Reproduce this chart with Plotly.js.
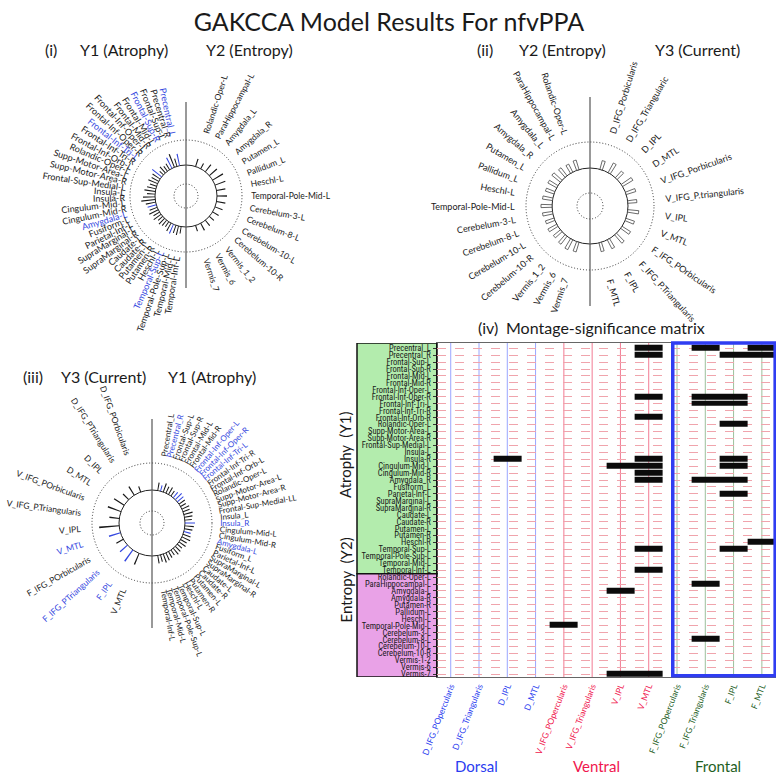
<!DOCTYPE html>
<html><head><meta charset="utf-8">
<script src="https://cdn.plot.ly/plotly-3.0.1.min.js"></script>
<style>html,body{margin:0;padding:0;background:#fff}#chart{width:778px;height:774px}</style>
</head><body><div id="chart"></div><script>
// ================= DATA =================
// Matrix (iv) rows and columns
const y1Rows = ['Precentral_L','Precentral_R','Frontal-Sup-L','Frontal-Sup-R','Frontal-Mid-L','Frontal-Mid-R','Frontal-Inf-Oper-L','Frontal-Inf-Oper-R','Frontal-Inf-Tri-L','Frontal-Inf-Tri-R','Frontal-Inf-Orb-R','Rolandic-Oper-L','Supp-Motor-Area-L','Supp-Motor-Area-R','Frontal-Sup-Medial-L','Insula-L','Insula-R','Cingulum-Mid-L','Cingulum-Mid-R','Amygdala_R','Fusiform_L','Parietal-Inf-L','SupraMarginal-L','SupraMarginal-R','Caudate-L','Caudate-R','Putamen-L','Putamen-R','Heschl-R','Temporal-Sup-L','Temporal-Pole-Sup-L','Temporal-Mid-L','Temporal-Inf-L'];
const y2Rows = ['Rolandic-Oper-L','ParaHippocampal-L','Amygdala-L','Amygdala-R','Putamen-R','Pallidum-L','Heschl-L','Temporal-Pole-Mid-L','Cerebelum-3-L','Cerebelum-8-L','Cerebelum-10-L','Cerebelum-10-R','Vermis-1-2','Vermis-6','Vermis-7'];
const y3Cols = ['D_IFG_POpercularis','D_IFG_Triangularis','D_IPL','D_MTL','V_IFG_POpercularis','V_IFG_Triangularis','V_IPL','V_MTL','F_IFG_POpercularis','F_IFG_Triangularis','F_IPL','F_MTL'];
const colGroups = ['Dorsal','Dorsal','Dorsal','Dorsal','Ventral','Ventral','Ventral','Ventral','Frontal','Frontal','Frontal','Frontal'];
const groupNames = ['Dorsal','Ventral','Frontal'];
// significant cells: row index (into y1Rows then y2Rows) and column index
const sigRowIdx = [0,0,0, 1,1,1, 7,7,7, 8,8, 10, 11, 16,16,16, 17,17,17, 18, 19,19,19, 21, 28, 29,29, 32, 34, 35, 40, 42, 47,47];
const sigColIdx = [7,9,11, 7,10,11, 7,9,10, 9,10, 7, 10, 2,7,10, 6,7,10, 7, 7,9,10, 10, 11, 7,10, 7, 9, 6, 4, 9, 6,7];

// Circle (i): Y1 (Atrophy) left, Y2 (Entropy) right
const c1LeftLabels = ['Precentral_L','Precentral_R','Frontal-Sup-L','Frontal-Sup-R','Frontal-Mid-L','Frontal-Mid-R','Frontal-Inf-Oper-L','Frontal-Inf-Oper-R','Frontal-Inf-Tri-L','Frontal-Inf-Tri-R','Frontal-Inf-Orb-L','Rolandic-Oper-L','Supp-Motor-Area-L','Supp-Motor-Area-R','Frontal-Sup-Medial-L','Insula-L','Insula-R','Cingulum-Mid-L','Cingulum-Mid-R','Amygdala-L','Fusiform-L','Parietal-Inf-L','SupraMarginal-L','SupraMarginal-R','Caudate-L','Caudate-R','Putamen-L','Putamen-R','Heschl-L','Temporal-Sup-L','Temporal-Pole-Sup-L','Temporal-Mid-L','Temporal-Inf-L'];
const c1LeftVals = [12,8,14,12,7,6,8,5,12,9,8,10,7,9,11,8,12,14,10,9,8,10,7,9,6,8,7,6,9,10,8,9,7];
const c1LeftBlue = [0,3,8,19,29];
const c1RightLabels = ['Rolandic-Oper-L','ParaHippocampal-L','Amygdala_L','Amygdala_R','Putamen_L','Pallidum_L','Heschl-L','Temporal-Pole-Mid-L','Cerebelum-3-L','Cerebelum-8-L','Cerebelum-10-L','Cerebelum-10-R','Vermis_1_2','Vermis_6','Vermis_7'];
const c1RightVals = [8,6,9,10,12,11,9,10,9,8,7,6,7,8,6];
const c1RightBlue = [];

// Circle (ii): Y2 (Entropy) left, Y3 (Current) right
const c2LeftLabels = ['Rolandic-Oper-L','ParaHippocampal-L','Amygdala_L','Amygdala_R','Putamen_L','Pallidum_L','Heschl-L','Temporal-Pole-Mid-L','Cerebelum-3-L','Cerebelum-8-L','Cerebelum-10-L','Cerebelum-10-R','Vermis_1_2','Vermis_6','Vermis_7'];
const c2LeftVals = [10,9,10,11,10,9,10,11,10,9,10,9,10,11,10];
const c2LeftBlue = [];
const c2RightLabels = ['D_IFG_Porbicularis','D_IFG_Triangularic','D_IPL','D_MTL','V_IFG_Porbicularis','V_IFG_P.triangularis','V_IPL','V_MTL','F_IFG_POrbicularis','F_IFG_P.Triangularis','F_IPL','F_MTL'];
const c2RightVals = [9,11,9,12,10,9,11,9,10,11,10,9];
const c2RightBlue = [];

// Circle (iii): Y3 (Current) left, Y1 (Atrophy) right
const c3LeftLabels = ['D_IFG_POrbicularis','D_IFG_PTriangularis','D_IPL','D_MTL','V_IFG_POrbicularis','V_IFG_P.Triangularis','V_IPL','V_MTL','F_IFG_POrbicularis','F_IFG_PTriangularis','F_IPL','V_MTL'];
const c3LeftVals = [6,10,8,12,14,10,20,12,8,10,14,12];
const c3LeftBlue = [7,9,10];
const c3RightLabels = ['Precentral_L','Precentral_R','Frontal-Sup-L','Frontal-Sup-R','Frontal-Mid-L','Frontal-Mid-R','Frontal-Inf-Oper-L','Frontal-Inf-Oper-R','Frontal-Inf-Tri-L','Frontal-Inf-Tri-R','Frontal-Inf-Orb-L','Rolandic-Oper-L','Supp-Motor-Area-L','Supp-Motor-Area-R','Frontal-Sup-Medial-LL','Insula_L','Insula_R','Cingulum-Mid-L','Cingulum-Mid-R','Amygdala-L','Fusiform_L','Parietal-Inf-L','SupraMarginal-L','SupraMarginal-R','Caudate-L','Caudate-R','Putamen-L','Putamen-R','Heschl-L','Temporal-Sup-L','Temporal-Pole-Sup-L','Temporal-Mid-L','Temporal-Inf-L'];
const c3RightVals = [8,6,9,7,8,6,7,9,8,7,6,8,7,9,8,7,10,9,8,7,8,9,7,8,6,7,8,6,7,8,9,7,8];
const c3RightBlue = [1,6,7,8,16,19];

// ================= STYLE / LAYOUT =================
const W = 778, H = 774;
const FONT = "Lato, 'Open Sans', sans-serif";
const NARROW = "'Liberation Sans Narrow', 'Roboto Condensed', Lato, sans-serif";
const BLUE = '#3548e0';
const INK = '#1a1a1a';
const groupColor = {Dorsal:'#2a3cf0', Ventral:'#f0164e', Frontal:'#1f5f1f'};
const groupLine = {Dorsal:'#9aa6ff', Ventral:'#f27a92', Frontal:'#9cc09c'};
const px = v => v / W;
const py = v => 1 - v / H;

const circles = [
  {cx:186, cy:196, half:60, base:31, small:12, outer:56, vTop:102, vBot:288, hollow:false,
   left:{labels:c1LeftLabels, vals:c1LeftVals, blue:c1LeftBlue, a0:102, a1:261, labelR:61, fs:9, w:1.6},
   right:{labels:c1RightLabels, vals:c1RightVals, blue:c1RightBlue, a0:72, a1:-72, labelR:66, fs:8.5, w:1.8}},
  {cx:590, cy:206, half:68, base:38, small:13, outer:64, vTop:97, vBot:306, hollow:true,
   left:{labels:c2LeftLabels, vals:c2LeftVals, blue:c2LeftBlue, a0:108.7, a1:251.3, labelR:76, fs:9, w:3.8},
   right:{labels:c2RightLabels, vals:c2RightVals, blue:c2RightBlue, a0:73, a1:-74.4, labelR:76, fs:9, w:3.8}},
  {cx:152, cy:523, half:64, base:33, small:12, outer:60, vTop:419, vBot:628, hollow:false,
   left:{labels:c3LeftLabels, vals:c3LeftVals, blue:c3LeftBlue, a0:110, a1:247, labelR:72, fs:8.5, w:1.8},
   right:{labels:c3RightLabels, vals:c3RightVals, blue:c3RightBlue, a0:80, a1:-80, labelR:68, fs:8, w:1.6}}
];

const data = [];
const annotations = [];
const shapes = [];
const layout = {
  width: W, height: H, margin:{l:0,r:0,t:0,b:0}, showlegend:false,
  paper_bgcolor:'#fff', plot_bgcolor:'#fff',
  font:{family:FONT, color:INK},
  title:{text:'GAKCCA Model Results For nfvPPA', x:0.5, xanchor:'center', y:py(22), yanchor:'middle', font:{size:25, family:FONT, color:INK}},
};

function anglesFor(side){
  const n = side.labels.length;
  return side.labels.map((_,k)=> side.a0 + k*(side.a1 - side.a0)/(n-1));
}

circles.forEach((c, ci) => {
  const nameA = ci === 0 ? 'polar' : 'polar' + (ci*2+1);
  const nameB = 'polar' + (ci*2+2);
  const domain = {x:[px(c.cx - c.half), px(c.cx + c.half)], y:[py(c.cy + c.half), py(c.cy - c.half)]};
  const hiddenAng = {showgrid:false, showticklabels:false, ticks:'', showline:false, rotation:0, direction:'counterclockwise'};
  layout[nameA] = {domain, bgcolor:'rgba(0,0,0,0)', barmode:'overlay',
    radialaxis:{range:[0,c.half], tickvals:[c.small, c.outer], showgrid:true, griddash:'1px,2px', gridcolor:'#333', gridwidth:1, showticklabels:false, ticks:'', showline:false},
    angularaxis:hiddenAng};
  layout[nameB] = {domain, bgcolor:'rgba(0,0,0,0)', barmode:'overlay',
    radialaxis:{range:[0,c.half], tickvals:[c.base], showgrid:true, griddash:'solid', gridcolor:'#222', gridwidth:1, showticklabels:false, ticks:'', showline:false},
    angularaxis:hiddenAng};
  data.push({type:'scatterpolar', subplot:nameA, r:[0], theta:[0], mode:'markers', marker:{opacity:0}, hoverinfo:'skip'});

  ['left','right'].forEach(sideName => {
    const side = c[sideName];
    const ang = anglesFor(side);
    const cols = side.labels.map((_,k)=> side.blue.includes(k) ? BLUE : INK);
    data.push({type:'barpolar', subplot:nameB, theta:ang, r:side.vals, base:c.base, width:side.w,
      marker: c.hollow ? {color:'#fff', line:{color:'#444', width:0.8}} : {color:cols, line:{width:0}},
      hoverinfo:'skip'});
    side.labels.forEach((lab,k)=>{
      const th = ang[k], rad = th*Math.PI/180;
      const x = c.cx + side.labelR*Math.cos(rad);
      const y = c.cy - side.labelR*Math.sin(rad);
      const hid = '<span style="color:rgba(0,0,0,0)">' + lab + '</span>';
      const vis = '<span style="color:' + cols[k] + '">' + lab + '</span>';
      const isRight = sideName === 'right';
      annotations.push({xref:'paper', yref:'paper', x:px(x), y:py(y), showarrow:false,
        xanchor:'center', yanchor:'middle', text: isRight ? hid+vis : vis+hid,
        textangle: isRight ? -th : 180 - th, font:{size:side.fs, family:FONT, color:cols[k]}});
    });
  });
  shapes.push({type:'line', xref:'paper', yref:'paper', x0:px(c.cx), x1:px(c.cx), y0:py(c.vTop), y1:py(c.vBot), line:{color:'#555', width:1.2}});
});

// Panel titles
const ptitle = (t, x, y) => annotations.push({xref:'paper', yref:'paper', x:px(x), y:py(y), text:t, showarrow:false, xanchor:'center', yanchor:'middle', font:{size:16, family:FONT, color:INK}});
ptitle('(i)', 51, 50); ptitle('Y1 (Atrophy)', 124, 50); ptitle('Y2 (Entropy)', 249, 50);
ptitle('(ii)', 485, 50); ptitle('Y2 (Entropy)', 562, 50); ptitle('Y3 (Current)', 697, 50);
ptitle('(iii)', 33, 376); ptitle('Y3 (Current)', 103, 376); ptitle('Y1 (Atrophy)', 212, 376);
ptitle('(iv)', 488, 327); ptitle('Montage-significance matrix', 605, 327);

// ================= MATRIX (iv) =================
const allRows = y1Rows.concat(y2Rows);
const nRows = allRows.length, nCols = y3Cols.length;
const z = allRows.map(()=> y3Cols.map(()=> null));
sigRowIdx.forEach((r,i)=>{ z[r][sigColIdx[i]] = 1; });
const yRange = [nRows - 0.6, -0.75];
const xRange = [-0.485, nCols - 0.5];

data.push({type:'heatmap', xaxis:'x', yaxis:'y', x:y3Cols.map((_,j)=>j), y:allRows.map((_,i)=>i), z:z,
  colorscale:[[0,'#0b0b0b'],[1,'#0b0b0b']], zmin:0, zmax:1, showscale:false, xgap:0, ygap:1, hoverinfo:'skip'});

layout.xaxis = {domain:[px(437), px(776)], range:xRange, tickvals:y3Cols.map((_,j)=>j),
  ticktext:y3Cols.map((t,j)=> '<span style="color:' + groupColor[colGroups[j]] + '">' + t + '</span>'),
  tickangle:-69, tickfont:{size:8.5, family:FONT}, showgrid:false, zeroline:false, ticks:'',
  showline:true, mirror:true, linecolor:'#666', linewidth:1, anchor:'y'};
layout.yaxis = {domain:[py(677), py(343)], range:yRange, tickvals:allRows.map((_,i)=>i), ticktext:allRows,
  tickfont:{size:8.5, family:NARROW, color:INK}, ticks:'outside', ticklen:3, tickcolor:'#333',
  showgrid:true, griddash:'dash', gridcolor:'#f0a4ac', gridwidth:1, zeroline:false,
  showline:true, linecolor:'#111', linewidth:1.5, anchor:'x'};

// label boxes
shapes.push({type:'rect', xref:'paper', yref:'y', x0:px(357), x1:px(437), y0:yRange[1], y1:y1Rows.length-0.5, fillcolor:'#b3ecad', line:{color:'#111', width:1.5}, layer:'below'});
shapes.push({type:'rect', xref:'paper', yref:'y', x0:px(357), x1:px(437), y0:y1Rows.length-0.5, y1:yRange[0], fillcolor:'#e9a2e7', line:{color:'#111', width:1.5}, layer:'below'});
// column lines
y3Cols.forEach((_,j)=> shapes.push({type:'line', xref:'x', yref:'y domain', x0:j, x1:j, y0:0, y1:1, line:{color:groupLine[colGroups[j]], width:1}, layer:'below'}));
// frontal highlight box
const firstFrontal = colGroups.indexOf('Frontal');
shapes.push({type:'rect', xref:'x', yref:'y domain', x0:firstFrontal-0.15, x1:nCols-0.53, y0:0.004, y1:1, line:{color:'#2f3df2', width:3.5}, fillcolor:'rgba(0,0,0,0)', layer:'above'});

// side labels
annotations.push({xref:'paper', yref:'paper', x:px(345), y:py(455), text:'Atrophy  (Y1)', textangle:-90, showarrow:false, font:{size:15, family:FONT, color:INK}});
annotations.push({xref:'paper', yref:'paper', x:px(345), y:py(625), text:'Entropy  (Y2)', textangle:-90, showarrow:false, font:{size:15, family:FONT, color:INK}});
// group labels
const groupX = {Dorsal:476, Ventral:596, Frontal:718};
groupNames.forEach(g => annotations.push({xref:'paper', yref:'paper', x:px(groupX[g]), y:py(766), text:g, showarrow:false, xanchor:'center', yanchor:'middle', font:{size:15, family:FONT, color:groupColor[g]}}));

layout.annotations = annotations;
layout.shapes = shapes;
Plotly.newPlot('chart', data, layout, {staticPlot:true, displayModeBar:false});
</script></body></html>
